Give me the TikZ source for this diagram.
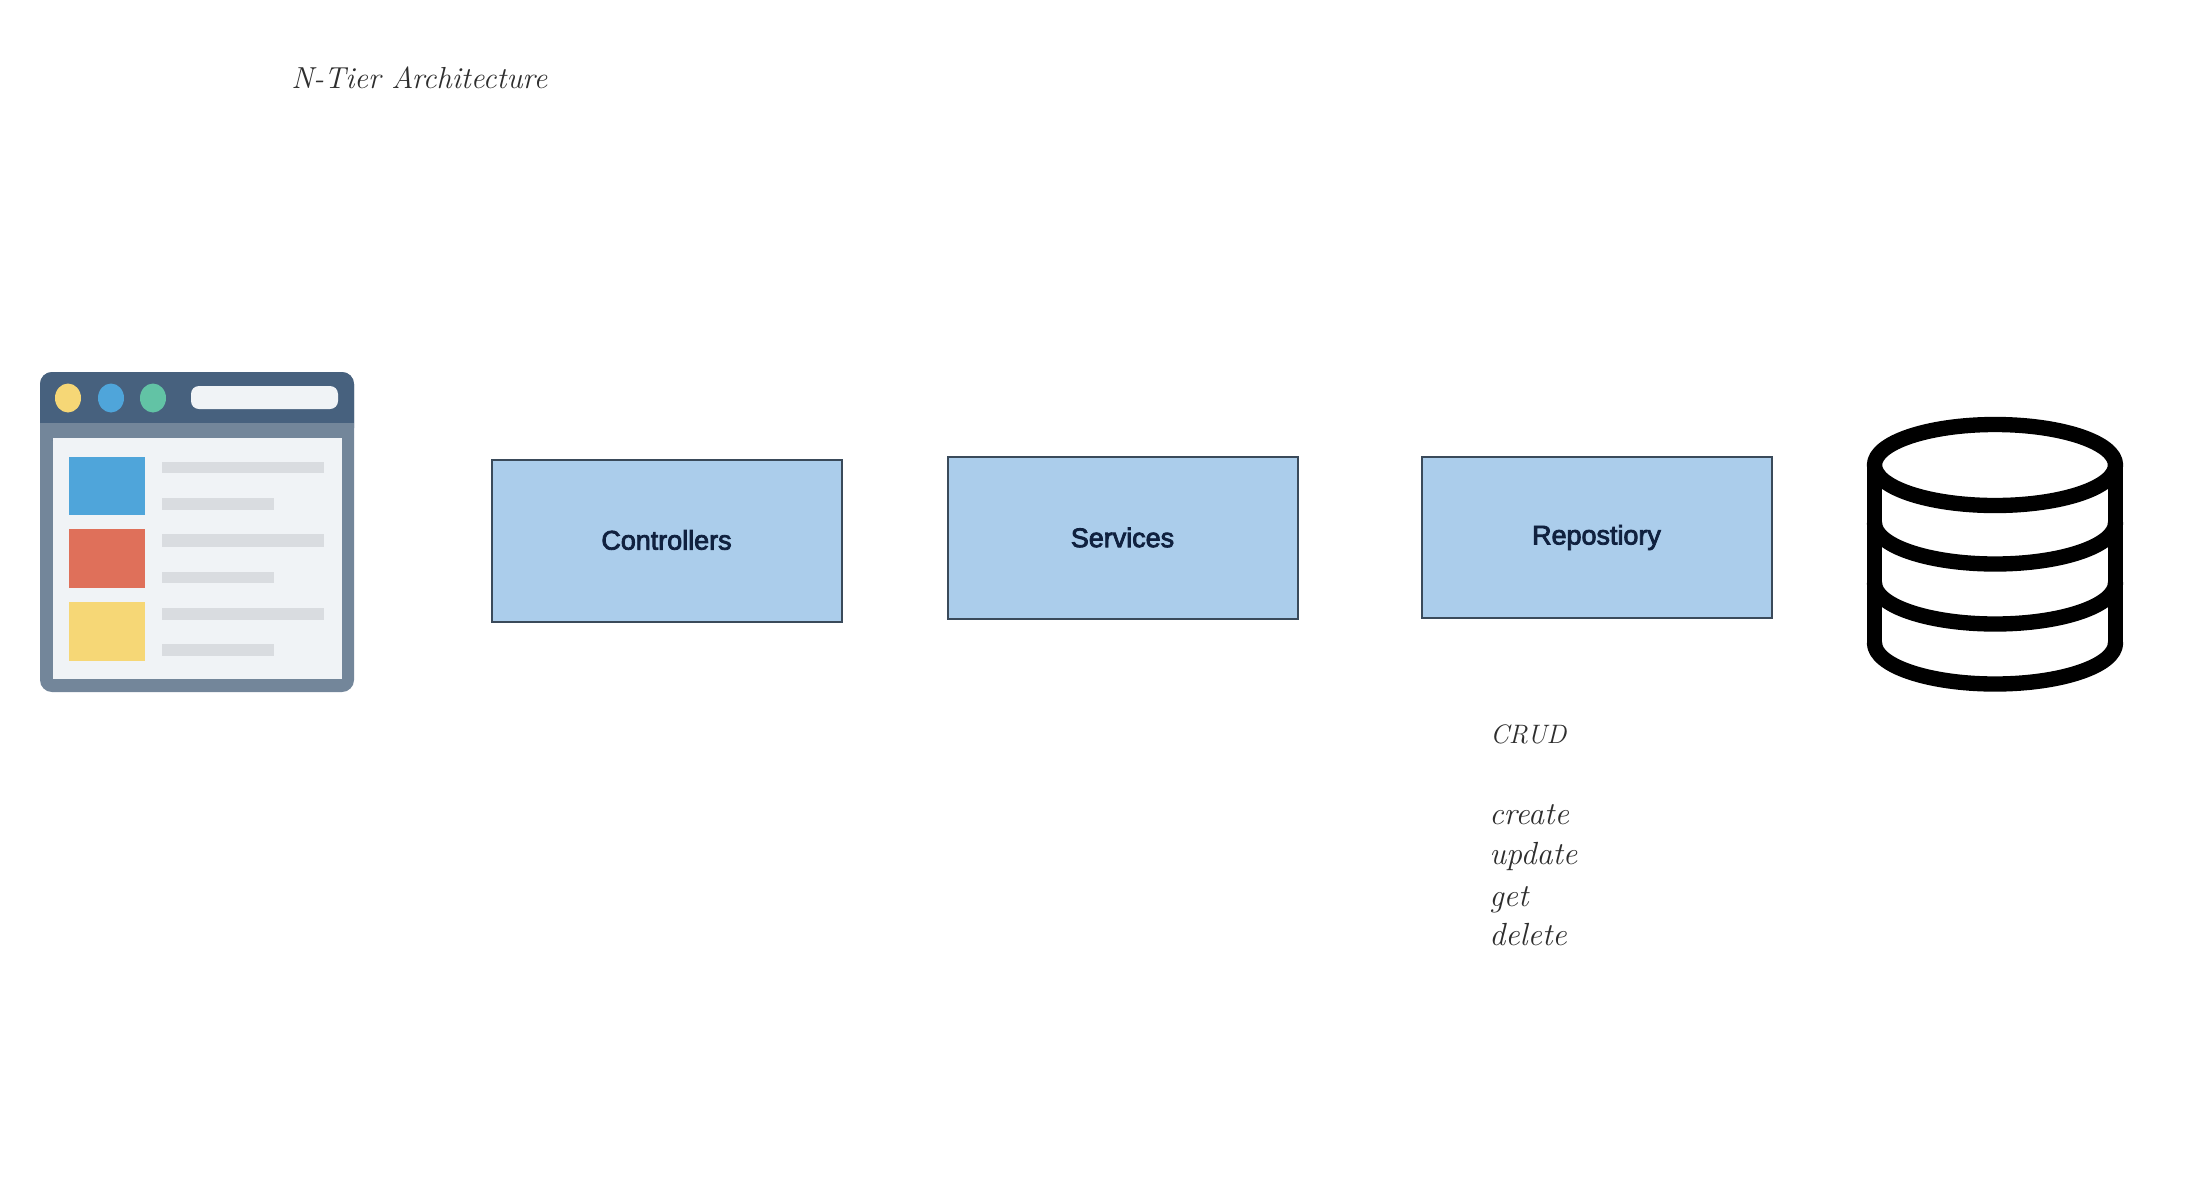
\documentclass[tikz,border=0pt]{standalone}
\usepackage{fontspec}
\newfontfamily\boxfont[FakeBold=3]{Liberation Sans}
\definecolor{boxfill}{HTML}{ABCDEB}
\definecolor{boxline}{HTML}{3A4A5A}
\definecolor{boxtext}{HTML}{10213F}
\definecolor{hand}{HTML}{2E2E2E}
\definecolor{winframe}{HTML}{73869A}
\definecolor{winhead}{HTML}{47617E}
\definecolor{winpane}{HTML}{F0F3F6}
\definecolor{winbar}{HTML}{D9DCE0}
\definecolor{iyellow}{HTML}{F6D776}
\definecolor{iblue}{HTML}{4FA5DA}
\definecolor{igreen}{HTML}{62C3A5}
\definecolor{ired}{HTML}{DF705A}
\tikzset{
  x=0.75pt,y=-0.75pt,
  tierbox/.style={draw=boxline,line width=1.5pt,fill=boxfill,text=boxtext,inner sep=0pt,
    font=\boxfont\fontsize{20.2pt}{24pt}\selectfont},
  handtext/.style={text=hand,inner sep=0pt,anchor=base west,font=\itshape\fontsize{24pt}{28pt}\selectfont},
  handcaps/.style={handtext,font=\itshape\fontsize{20pt}{24pt}\selectfont},
  dbline/.style={draw=black,line width=11.5pt,line cap=round,line join=round},
}
\newcommand{\tierbox}[6]{\node[tierbox,minimum width=#4*0.75pt,minimum height=#5*0.75pt] (#1) at (#2,#3) {#6};}
\begin{document}
\begin{tikzpicture}
\useasboundingbox (0,0) rectangle (2196,1182);
\fill[white] (0,0) rectangle (2196,1182);

% title
\node[handtext,font=\itshape\fontsize{22.8pt}{28pt}\selectfont] (title) at (291,88) {N-Tier Architecture};

% browser window icon
\fill[winframe,rounded corners=9pt] (40,372) rectangle (354,692);
\fill[winhead,rounded corners=9pt] (40,372) rectangle (354,440);
\fill[winframe] (40,423) rectangle (354,440);
\fill[winpane] (52.7,438) rectangle (342.3,679);
\fill[iyellow] (68,398) ellipse [x radius=13,y radius=14.5];
\fill[iblue] (111,398) ellipse [x radius=13,y radius=14.5];
\fill[igreen] (153,398) ellipse [x radius=13,y radius=14.5];
\fill[winpane,rounded corners=6pt] (191,386) rectangle (338,409);
\fill[iblue] (69,457) rectangle (145,515);
\fill[ired] (69,529) rectangle (145,588);
\fill[iyellow] (69,602) rectangle (145,661);
\fill[winbar] (162,462) rectangle (324,473);
\fill[winbar] (162,498) rectangle (274,510);
\fill[winbar] (162,534) rectangle (324,547);
\fill[winbar] (162,572) rectangle (274,583);
\fill[winbar] (162,608) rectangle (324,620);
\fill[winbar] (162,644) rectangle (274,656);

% tiers
\tierbox{controllers}{666.5}{540.5}{350}{162}{\raisebox{1pt}{Controllers}}
\tierbox{services}{1122.5}{537.5}{350}{162}{Services}
\tierbox{repo}{1596.5}{537.5}{350}{161}{Repostiory}

% database
\draw[dbline] (1995,465) ellipse [x radius=120.5,y radius=40.5];
\draw[dbline] (1874.5,465) -- (1874.5,643) (2115.5,465) -- (2115.5,643);
\draw[dbline] (1874.5,523) arc [start angle=180,end angle=360,x radius=120.5,y radius=-41];
\draw[dbline] (1874.5,583) arc [start angle=180,end angle=360,x radius=120.5,y radius=-41];
\draw[dbline] (1874.5,643) arc [start angle=180,end angle=360,x radius=120.5,y radius=-41];

% notes
\node[handcaps] (crud) at (1490,743) {CRUD};
\node[handtext] (create) at (1489,824) {create};
\node[handtext] (update) at (1489,864) {update};
\node[handtext] (get) at (1489,906) {get};
\node[handtext] (delete) at (1489,945) {delete};
\end{tikzpicture}
\end{document}
